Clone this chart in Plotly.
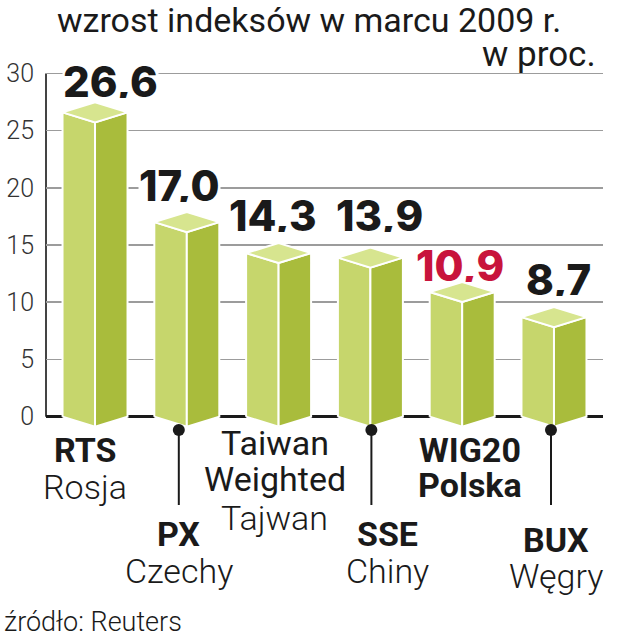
import plotly.graph_objects as go

# ---------------- data ----------------
categories = ["RTS", "PX", "Taiwan Weighted", "SSE", "WIG20", "BUX"]
countries = ["Rosja", "Czechy", "Tajwan", "Chiny", "Polska", "Węgry"]
values = [26.6, 17.0, 14.3, 13.9, 10.9, 8.7]
y_ticks = [0, 5, 10, 15, 20, 25, 30]
title_text = "wzrost indeksów w marcu 2009 r."
unit_text = "w proc."
source_text = "źródło: Reuters"
highlight = "WIG20"

# ---------------- layout geometry / styling ----------------
W, H = 618, 640
ML, MR, MT, MB = 46, 15, 62, 6
X_RANGE = [-0.534, 5.534]
Y_RANGE = [-19, 31]
PX_Y = (H - MT - MB) / (Y_RANGE[1] - Y_RANGE[0])
PX_X = (W - ML - MR) / (X_RANGE[1] - X_RANGE[0])


def y_at(p):
    return Y_RANGE[1] - (p - MT) / PX_Y


def dx(p):
    return p / PX_X


def dy(p):
    return p / PX_Y


HALF = dx(32.5)
DEPTH = dy(10)
C_LEFT = "#c6d66c"
C_RIGHT = "#a9bc3c"
C_TOP = "#d7e58f"
TXT = "#1a1a1a"
RED = "#c8143c"
FONT = "Roboto"

# value-label placement tweaks (pixels)
val_xshift = [15, -7, -6, 9, -2, 5]
val_yshift = [-5, 1, 1, 6, -10, 2]

# category label placement (pixels: x shift, y centres of each line)
lab_xshift = [-10, -8, -4, 17, 8, 2]
lab_y = [[450, 487], [534, 571], [443, 479, 518], [534, 571], [450, 485], [540, 576]]
leader_idx = [1, 3, 5]
leader_xshift = [-8, 1, -3]

fig = go.Figure()

# ---------------- 3D prism bars ----------------
for i, v in enumerate(values):
    c = i
    faces = [
        ([c - HALF, c - HALF, c, c, c - HALF], [0, v, v - DEPTH, -DEPTH, 0], C_LEFT),
        ([c, c, c + HALF, c + HALF, c], [-DEPTH, v - DEPTH, v, 0, -DEPTH], C_RIGHT),
        ([c - HALF, c, c + HALF, c, c - HALF], [v, v + DEPTH, v, v - DEPTH, v], C_TOP),
    ]
    for xs, ys, col in faces:
        fig.add_trace(go.Scatter(
            x=xs, y=ys, mode="lines", fill="toself", fillcolor=col,
            line=dict(color="white", width=2), hoverinfo="skip", showlegend=False))

# ---------------- leader lines with dots ----------------
for k, i in enumerate(leader_idx):
    xx = i + dx(leader_xshift[k])
    fig.add_trace(go.Scatter(
        x=[xx, xx], y=[y_at(430), y_at(505)], mode="lines",
        line=dict(color=TXT, width=2), hoverinfo="skip", showlegend=False))
    fig.add_trace(go.Scatter(
        x=[xx], y=[y_at(430)], mode="markers",
        marker=dict(color=TXT, size=12), hoverinfo="skip", showlegend=False,
        cliponaxis=False))

annotations = []

# ---------------- value labels ----------------
for i, v in enumerate(values):
    col = RED if categories[i] == highlight else TXT
    annotations.append(dict(
        x=i, y=v + 3.2, xref="x", yref="y",
        text=f"{v:.1f}".replace(".", ","), showarrow=False,
        xshift=val_xshift[i], yshift=val_yshift[i],
        font=dict(family="Inter", size=42, color=col, weight=800),
        bgcolor="white", height=34, borderpad=0, xanchor="center", yanchor="middle"))

# ---------------- category labels ----------------
for i, name in enumerate(categories):
    if name == "Taiwan Weighted":
        lines = [("Taiwan", 400), ("Weighted", 400), (countries[i], 300)]
    else:
        cw = 700 if name == highlight else 300
        lines = [(name, 700), (countries[i], cw)]
    for j, (t, wgt) in enumerate(lines):
        annotations.append(dict(
            x=i, y=y_at(lab_y[i][j]), xref="x", yref="y", text=t, showarrow=False,
            xshift=lab_xshift[i], xanchor="center", yanchor="middle",
            font=dict(family=FONT, size=34, color=TXT, weight=wgt)))

# ---------------- title, unit, source ----------------
annotations.append(dict(x=563, y=H - 20, xref="paper", yref="paper", text=title_text,
                        showarrow=False, xanchor="right", yanchor="middle",
                        font=dict(family=FONT, size=34, color=TXT, weight=400)))
annotations.append(dict(x=598, y=H - 55, xref="paper", yref="paper", text=unit_text,
                        showarrow=False, xanchor="right", yanchor="middle",
                        font=dict(family=FONT, size=35, color=TXT, weight=400)))
annotations.append(dict(x=2, y=H - 622, xref="paper", yref="paper", text=source_text,
                        showarrow=False, xanchor="left", yanchor="middle",
                        font=dict(family=FONT, size=27, color=TXT, weight=300)))

# convert pixel positions of paper annotations to paper fractions
for a in annotations:
    if a["xref"] == "paper":
        a["x"] = (a["x"] - ML) / (W - ML - MR)
        a["y"] = (a["y"] - MB) / (H - MT - MB)

# vertical axis line
shapes = [dict(type="line", xref="paper", x0=0, x1=0, yref="y",
               y0=min(y_ticks), y1=max(y_ticks), line=dict(color="#444", width=2),
               layer="below")]

fig.update_layout(
    width=W, height=H, margin=dict(l=ML, r=MR, t=MT, b=MB, autoexpand=False),
    paper_bgcolor="white", plot_bgcolor="white", showlegend=False,
    annotations=annotations, shapes=shapes,
    xaxis=dict(range=X_RANGE, visible=False, fixedrange=True),
    yaxis=dict(range=Y_RANGE, tickvals=y_ticks, ticktext=[str(t) for t in y_ticks],
               showgrid=True, gridcolor="#9c9c9c", gridwidth=1.5,
               zeroline=True, zerolinecolor="#1a1a1a", zerolinewidth=3,
               showline=False, ticks="outside", ticklen=6, tickcolor="rgba(0,0,0,0)",
               tickfont=dict(family=FONT, size=25, color="#333", weight=300),
               fixedrange=True),
)

fig.write_html(
    "out.html",
    config={"displayModeBar": False, "staticPlot": True},
    post_script="document.body.style.margin='0';document.body.style.overflow='hidden';",
)
